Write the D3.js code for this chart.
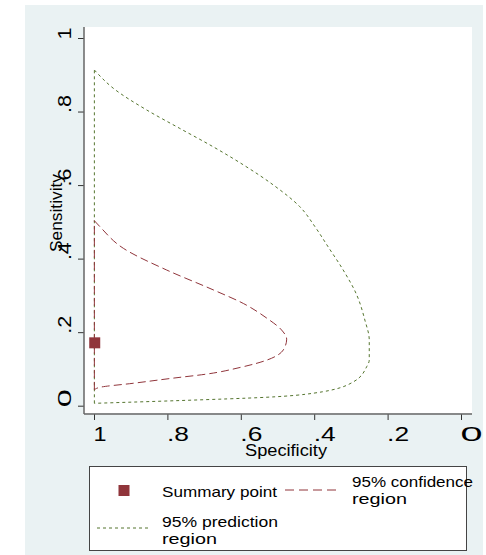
<!DOCTYPE html>
<html>
<head>
<meta charset="utf-8">
<script src="https://cdn.jsdelivr.net/npm/d3@7"></script>
<style>
  body { margin: 0; background: #fff; }
  text { font-family: "Liberation Sans", Arial, sans-serif; fill: #000; }
</style>
</head>
<body>
<div id="chart"></div>
<script>
// valeurs (specificite, sensibilite)
var xTickVals = [1, 0.8, 0.6, 0.4, 0.2, 0];
var xTickLabels = ["1", ".8", ".6", ".4", ".2", "0"];
var yTickVals = [0, 0.2, 0.4, 0.6, 0.8, 1];
var yTickLabels = ["0", ".2", ".4", ".6", ".8", "1"];

var summarySpec = [0.998];
var summarySens = [0.171];

// region de confiance 95% (contour, puis retour vertical a spec = 1)
var confSpec = [0.999, 0.984, 0.920, 0.802, 0.675, 0.593, 0.529, 0.489, 0.475,
                0.484, 0.529, 0.602, 0.693, 0.784, 0.893, 0.984, 0.999];
var confSens = [0.503, 0.487, 0.428, 0.369, 0.315, 0.278, 0.238, 0.206, 0.181,
                0.152, 0.124, 0.104, 0.086, 0.075, 0.061, 0.050, 0.043];

// region de prediction 95%
var predSpec = [0.999, 0.947, 0.856, 0.766, 0.675, 0.593, 0.511, 0.439, 0.398, 0.362, 0.321,
                0.284, 0.262, 0.250, 0.250, 0.257, 0.293, 0.402, 0.529, 0.766, 0.999];
var predSens = [0.913, 0.863, 0.804, 0.754, 0.704, 0.655, 0.600, 0.541, 0.487, 0.432, 0.369,
                0.301, 0.233, 0.179, 0.124, 0.106, 0.065, 0.034, 0.023, 0.014, 0.0065];

var legendLabels = ["Summary point", "95% confidence|region", "95% prediction|region"];

var maroon = "#90353b", green = "#55752f";

var svg = d3.select("#chart").append("svg")
    .attr("width", 486)
    .attr("height", 555);

// fond du graphique
svg.append("rect").attr("x", 25).attr("y", 5).attr("width", 458).attr("height", 550)
    .attr("fill", "#eaf2f3");
svg.append("rect").attr("x", 84).attr("y", 27).attr("width", 388).attr("height", 386)
    .attr("fill", "#fff");

// echelles
var x = d3.scaleLinear().domain([1, 0]).range([94, 461]);
var y = d3.scaleLinear().domain([0, 1]).range([405.7, 38]);

// axe X
var gx = svg.append("g")
    .attr("transform", "translate(0,414)")
    .call(d3.axisBottom(x).tickValues(xTickVals)
        .tickFormat(function(d, i) { return xTickLabels[i]; })
        .tickSize(6).tickSizeOuter(0));
gx.select(".domain").remove();
gx.selectAll(".tick line").attr("stroke", "#333");
gx.selectAll(".tick text")
    .attr("y", 27).attr("dy", 0).attr("x", -1)
    .attr("text-anchor", "start")
    .style("font-size", "20px")
    .attr("lengthAdjust", "spacingAndGlyphs")
    .attr("textLength", function(d, i) { return xTickLabels[i] == "1" ? 13 : 22; });
svg.append("line").attr("x1", 84).attr("x2", 472).attr("y1", 414).attr("y2", 414)
    .attr("stroke", "#666").attr("stroke-width", 1.5);

// axe Y
var gy = svg.append("g")
    .attr("transform", "translate(84,0)")
    .call(d3.axisLeft(y).tickValues(yTickVals)
        .tickFormat(function(d, i) { return yTickLabels[i]; })
        .tickSize(6).tickSizeOuter(0));
gy.select(".domain").remove();
gy.selectAll(".tick line").attr("stroke", "#333");
gy.selectAll(".tick text")
    .attr("x", 0).attr("y", 0).attr("dy", 0)
    .attr("transform", "translate(-13,1) rotate(-90)")
    .attr("text-anchor", "start")
    .style("font-size", "19px")
    .attr("lengthAdjust", "spacingAndGlyphs")
    .attr("textLength", function(d, i) { return yTickLabels[i] == "1" ? 12 : 18; });
svg.append("line").attr("x1", 84).attr("x2", 84).attr("y1", 27).attr("y2", 414)
    .attr("stroke", "#666").attr("stroke-width", 1.5);

// titres des axes
svg.append("text")
    .attr("x", 286).attr("y", 456)
    .attr("text-anchor", "middle")
    .style("font-size", "16px")
    .attr("lengthAdjust", "spacingAndGlyphs").attr("textLength", 82)
    .text("Specificity");
svg.append("text")
    .attr("transform", "translate(62,213) rotate(-90)")
    .attr("text-anchor", "middle")
    .style("font-size", "16px")
    .attr("lengthAdjust", "spacingAndGlyphs").attr("textLength", 78)
    .text("Sensitivity");

// courbes : contour lisse + segment vertical de fermeture
var curve = d3.line()
    .x(function(d) { return x(d[0]); })
    .y(function(d) { return y(d[1]); })
    .curve(d3.curveMonotoneY);
var straight = d3.line()
    .x(function(d) { return x(d[0]); })
    .y(function(d) { return y(d[1]); });

function region(spec, sens, color, dash) {
    var pts = d3.zip(spec, sens);
    svg.append("path")
        .datum(pts)
        .attr("d", curve)
        .attr("fill", "none")
        .attr("stroke", color)
        .attr("stroke-width", 1)
        .attr("stroke-dasharray", dash);
    svg.append("path")
        .datum([pts[pts.length - 1], pts[0]])
        .attr("d", straight)
        .attr("fill", "none")
        .attr("stroke", color)
        .attr("stroke-width", 1)
        .attr("stroke-dasharray", dash);
}
region(predSpec, predSens, green, "3,3");
region(confSpec, confSens, maroon, "8,4");

svg.selectAll(".summary")
    .data(d3.zip(summarySpec, summarySens))
    .enter().append("rect")
    .attr("class", "summary")
    .attr("x", function(d) { return x(d[0]) - 5.5; })
    .attr("y", function(d) { return y(d[1]) - 5.5; })
    .attr("width", 11).attr("height", 11)
    .attr("fill", maroon);

// legende
var leg = svg.append("g").attr("class", "legend");
leg.append("rect").attr("x", 89.5).attr("y", 466.5).attr("width", 377).attr("height", 84)
    .attr("fill", "#fff").attr("stroke", "#444").attr("stroke-width", 1);

leg.append("rect").attr("x", 118.5).attr("y", 485).attr("width", 11).attr("height", 11)
    .attr("fill", maroon);
leg.append("line").attr("x1", 285).attr("x2", 337).attr("y1", 490).attr("y2", 490)
    .attr("stroke", maroon).attr("stroke-dasharray", "9,5");
leg.append("line").attr("x1", 97).attr("x2", 150).attr("y1", 528).attr("y2", 528)
    .attr("stroke", green).attr("stroke-dasharray", "3,3");

var legPos = [[162, 496.5, [115]], [352, 486.5, [121, 55]], [162, 526.5, [116, 55]]];
legendLabels.forEach(function(lab, i) {
    var lines = lab.split("|");
    var t = leg.append("text")
        .attr("x", legPos[i][0]).attr("y", legPos[i][1])
        .style("font-size", "15px");
    lines.forEach(function(s, j) {
        t.append("tspan")
            .attr("x", legPos[i][0])
            .attr("dy", j == 0 ? 0 : 17)
            .attr("lengthAdjust", "spacingAndGlyphs")
            .attr("textLength", legPos[i][2][j])
            .text(s);
    });
});
</script>
</body>
</html>
